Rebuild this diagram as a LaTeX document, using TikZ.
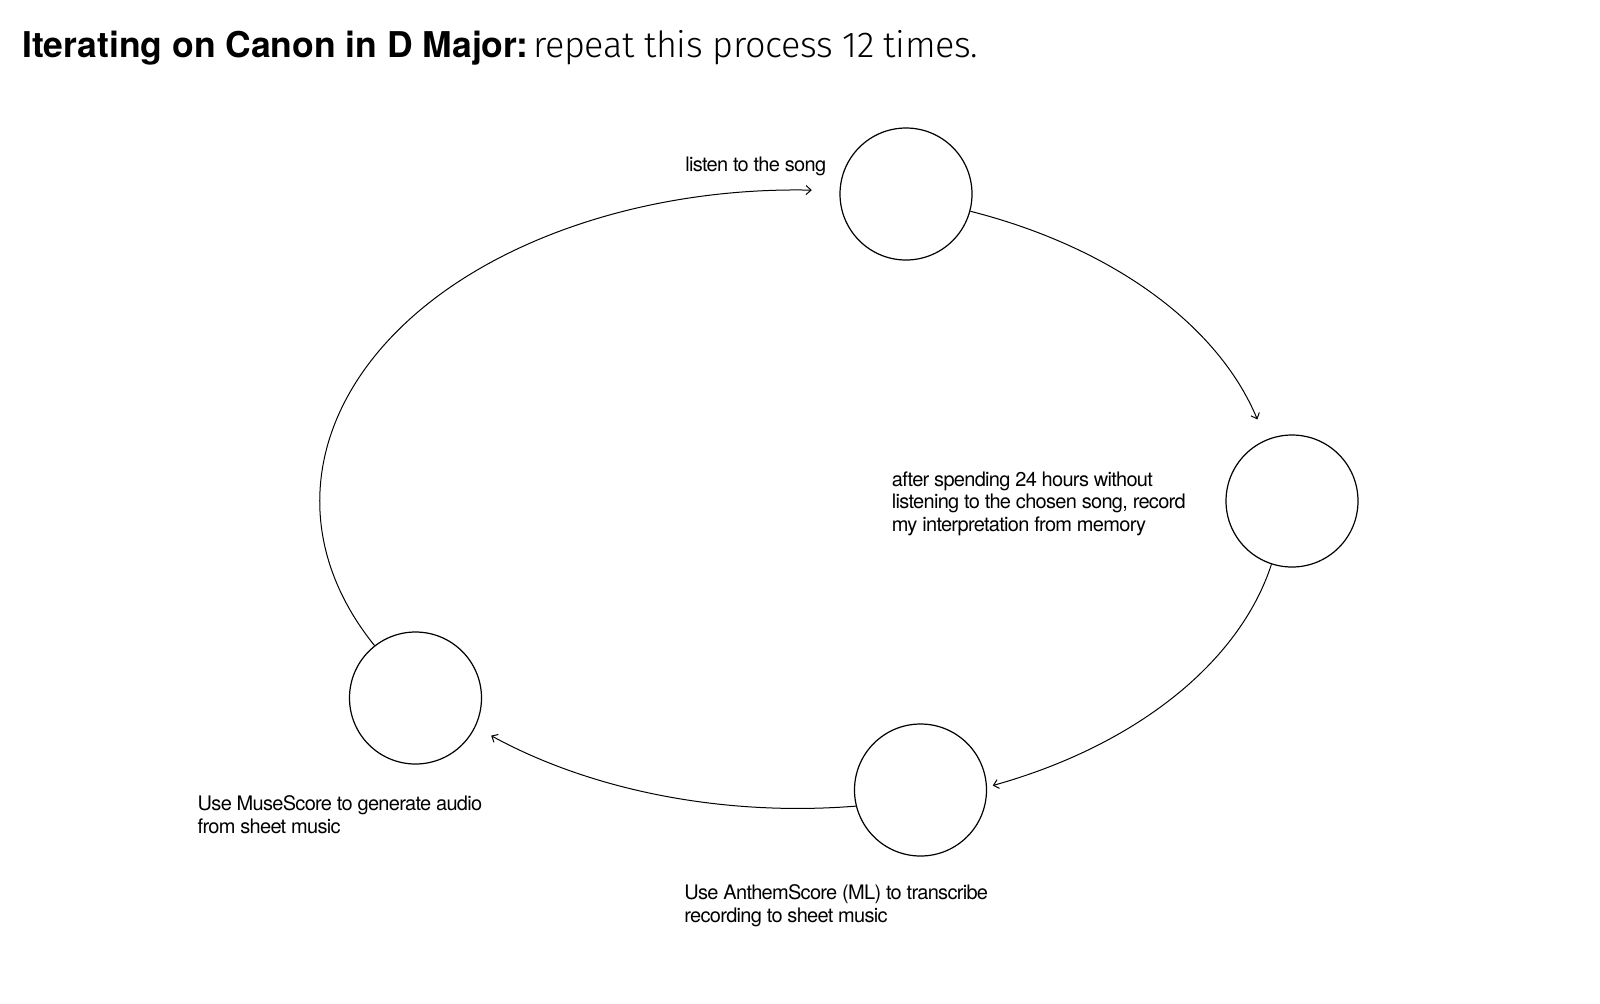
\documentclass[tikz,border=0pt]{standalone}
\usepackage{fontspec}
\setmainfont{TeX Gyre Heros}
\newfontfamily\lightfont[LetterSpace=-1]{Fira Sans Light}
\newfontfamily\labelfont[LetterSpace=-3.5]{TeX Gyre Heros}
\usetikzlibrary{arrows.meta}
\begin{document}
\begin{tikzpicture}[x=0.5pt,y=0.5pt,
  stage/.style={circle,draw,line width=0.6pt,minimum size=66pt,inner sep=0pt},
  flow/.style={line width=0.5pt,-{Straight Barb[length=2.5pt,width=4.5pt]}},
  lbl/.style={font=\labelfont\fontsize{10pt}{11.4pt}\selectfont,align=left,inner sep=0pt,anchor=base west}]
\useasboundingbox[fill=white] (0,0) rectangle (1600,-1003);
\node[anchor=base west,inner sep=0pt] (title) at (22,-57.3)
  {\fontsize{17.75pt}{20pt}\selectfont\textbf{Iterating on Canon in D Major:}\hspace{2.5pt}{\lightfont\fontsize{18pt}{20pt}\selectfont repeat this process 12 times.}};
\node[stage] (c1) at (906,-194) {};
\node[stage] (c2) at (1292,-501) {};
\node[stage] (c3) at (920.5,-790) {};
\node[stage] (c4) at (415.5,-698) {};
\node[lbl] (t1) at (685,-171.7) {listen to the song};
\node[lbl] (t2) at (891.5,-531.6) {after spending 24 hours without\\listening to the chosen song, record\\my interpretation from memory};
\node[lbl] (t3) at (684,-922.1) {Use AnthemScore (ML) to transcribe\\recording to sheet music};
\node[lbl] (t4) at (197.3,-833.5) {Use MuseScore to generate audio\\from sheet music};
\draw[flow] (c1.-15.7) arc[start angle=68.7, end angle=15.2, x radius=477, y radius=311];
\draw[flow] (c2.-108.7) arc[start angle=-12, end angle=-66.8, x radius=477, y radius=311];
\draw[flow] (c3.-166) arc[start angle=-83, end angle=-130, x radius=477, y radius=311];
\draw[flow] (c4.128) arc[start angle=207.7, end angle=88.2, x radius=477, y radius=311];
\end{tikzpicture}
\end{document}
